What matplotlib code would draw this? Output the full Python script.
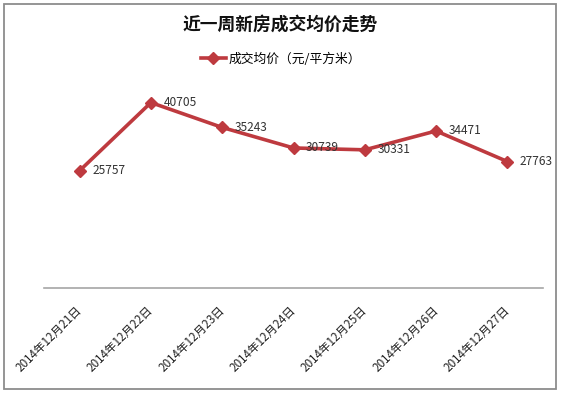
import matplotlib.pyplot as plt
from matplotlib.patches import Rectangle
from matplotlib.transforms import ScaledTranslation

plt.rcParams['font.family'] = ['Noto Sans CJK SC', 'DejaVu Sans']

dates = ["2014年12月21日", "2014年12月22日", "2014年12月23日", "2014年12月24日",
         "2014年12月25日", "2014年12月26日", "2014年12月27日"]
prices = [25757, 40705, 35243, 30739, 30331, 34471, 27763]

W, H = 562, 395
fig = plt.figure(figsize=(W / 100, H / 100), dpi=100)
ax = fig.add_axes([44 / W, 1 - 288 / H, (543 - 44) / W, (288 - 83) / H])

xs = list(range(len(dates)))
line, = ax.plot(xs, prices, color="#BE3A3F", lw=2.6, marker="D", ms=6.5,
                label="成交均价（元/平方米）")

for x, v in zip(xs, prices):
    ax.annotate(str(v), (x, v), xytext=(9, 0), textcoords="offset points",
                ha="left", va="center", fontsize=8.6, color="#333333")

ax.set_xlim(-0.5, len(dates) - 0.5)
ax.set_ylim(0, 45000)
ax.set_xticks(xs)
ax.set_xticklabels(dates, rotation=45, ha="right", va="top", fontsize=8.4,
                   color="#222222")
ax.tick_params(axis="x", length=0, pad=11)
shift = ScaledTranslation(5 / 100, 0, fig.dpi_scale_trans)
for lab in ax.get_xticklabels():
    lab.set_transform(lab.get_transform() + shift)
ax.set_yticks([])
for s in ["left", "right", "top"]:
    ax.spines[s].set_visible(False)
ax.spines["bottom"].set_color("#A6A6A6")
ax.spines["bottom"].set_linewidth(1.2)

fig.text(280 / W, 1 - 25 / H, "近一周新房成交均价走势", ha="center", va="center",
         fontsize=12.8, fontweight="bold", color="#111111")
fig.legend(handles=[line], loc="center", bbox_to_anchor=(281 / W, 1 - 59 / H),
           frameon=False, fontsize=9.2, handlelength=2.0, handletextpad=0.2)

fig.patches.append(Rectangle((4 / W, 1 - 389 / H), (556 - 4) / W, (389 - 4) / H,
                             transform=fig.transFigure, fill=False,
                             edgecolor="#8C8C8C", lw=1.3))

fig.savefig("out.png", dpi=100)
